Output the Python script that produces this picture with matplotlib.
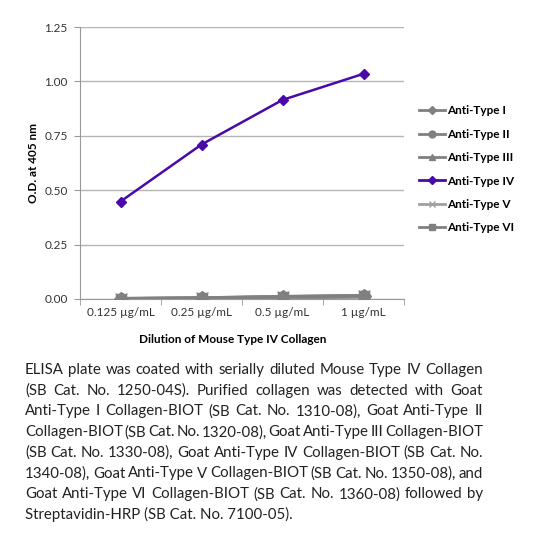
import matplotlib
matplotlib.use("Agg")
import matplotlib.pyplot as plt
from matplotlib.lines import Line2D

# ---------------- DATA ----------------
dilutions = ["0.125 µg/mL", "0.25 µg/mL", "0.5 µg/mL", "1 µg/mL"]
series_names = ["Anti-Type I", "Anti-Type II", "Anti-Type III",
                "Anti-Type IV", "Anti-Type V", "Anti-Type VI"]
type_i = [0.000, 0.003, 0.008, 0.012]
type_ii = [0.001, 0.004, 0.010, 0.015]
type_iii = [0.000, 0.002, 0.007, 0.011]
type_iv = [0.448, 0.710, 0.915, 1.035]
type_v = [0.000, 0.003, 0.009, 0.013]
type_vi = [0.001, 0.004, 0.010, 0.014]
yticks = [0.0, 0.25, 0.5, 0.75, 1.0, 1.25]

caption_lines = [
    "ELISA plate was coated with serially diluted Mouse Type IV Collagen",
    "(SB Cat. No. 1250-04S).  Purified collagen was detected with Goat",
    "Anti-Type I Collagen-BIOT (SB Cat. No. 1310-08), Goat Anti-Type II",
    "Collagen-BIOT (SB Cat. No. 1320-08), Goat Anti-Type III Collagen-BIOT",
    "(SB Cat. No. 1330-08), Goat Anti-Type IV Collagen-BIOT (SB Cat. No.",
    "1340-08), Goat Anti-Type V Collagen-BIOT (SB Cat. No. 1350-08), and",
    "Goat Anti-Type VI Collagen-BIOT (SB Cat. No. 1360-08) followed by",
    "Streptavidin-HRP (SB Cat. No. 7100-05).",
]
# --------------------------------------

FONT = ["Lato", "DejaVu Sans"]
plt.rcParams["font.family"] = FONT
GRAY = "#808080"
PURPLE = "#4a0aa8"
CAP_SIZE = 10.8

fig = plt.figure(figsize=(5.6, 5.48), dpi=100)
ax = fig.add_axes([0.1429, 0.4544, 0.5786, 0.4963])

x = list(range(len(dilutions)))
styles = [
    (type_i, GRAY, "D", 4),
    (type_ii, GRAY, "o", 5),
    (type_iii, GRAY, "^", 5),
    (type_iv, PURPLE, "D", 4),
    (type_v, "#a0a0a0", "x", 5),
    (type_vi, GRAY, "s", 4),
]
handles = []
for (vals, col, mk, ms), name in zip(styles, series_names):
    is_iv = col == PURPLE
    ax.plot(x, vals, color=col, lw=1.8 if is_iv else 2.6, marker=mk,
            ms=ms + 1 if is_iv else ms + 3, mec=col, mfc=col, zorder=5 if is_iv else 3)
    handles.append(Line2D([], [], color=col, lw=2, marker=mk, ms=ms, mec=col, mfc=col))

ax.set_xlim(-0.5, 3.5)
ax.set_ylim(0, 1.25)
ax.set_yticks(yticks)
ax.set_yticklabels([f"{v:.2f}" for v in yticks], fontsize=8.5, color="#333333")
ax.set_xticks(x)
ax.set_xticklabels(dilutions, fontsize=8.5, color="#333333")
ax.tick_params(axis="x", length=0, pad=6)
ax.set_xticks([-0.5, 0.5, 1.5, 2.5, 3.5], minor=True)
ax.tick_params(axis="x", which="minor", length=4, color="#999999", direction="out")
ax.tick_params(axis="y", length=4, color="#999999", pad=5)
ax.grid(axis="y", color="#b5b5b5", lw=1)
ax.set_axisbelow(True)
for s in ["top", "right"]:
    ax.spines[s].set_visible(False)
for s in ["left", "bottom"]:
    ax.spines[s].set_color("#999999")

ax.set_ylabel("O.D. at 405 nm", fontsize=8.5, fontweight="bold", labelpad=4)
ax.set_xlabel("Dilution of Mouse Type IV Collagen", fontsize=8.5, fontweight="bold")
ax.xaxis.set_label_coords(0.47, -0.13)

fig.legend(handles, series_names, loc="upper left", bbox_to_anchor=(0.73, 0.827),
           frameon=False, prop={"weight": "bold", "size": 8.5},
           handlelength=2.2, handletextpad=0.15, labelspacing=1.05)

# justified caption
renderer = fig.canvas.get_renderer()
left, right = 25, 483
top = 370
step = 20.7
W, H = fig.get_size_inches() * fig.dpi
for i, line in enumerate(caption_lines):
    y = (H - (top + i * step)) / H
    words = [w for w in line.split(" ") if w]
    if i == len(caption_lines) - 1:
        fig.text(left / W, y, line, fontsize=CAP_SIZE, color="#222222", va="center")
        continue
    texts = [fig.text(0, y, w, fontsize=CAP_SIZE, color="#222222", va="center") for w in words]
    widths = [t.get_window_extent(renderer).width for t in texts]
    gap = (right - left - sum(widths)) / (len(texts) - 1)
    xpos = left
    for t, wd in zip(texts, widths):
        t.set_x(xpos / W)
        xpos += wd + gap

fig.savefig("out.png", dpi=100)
